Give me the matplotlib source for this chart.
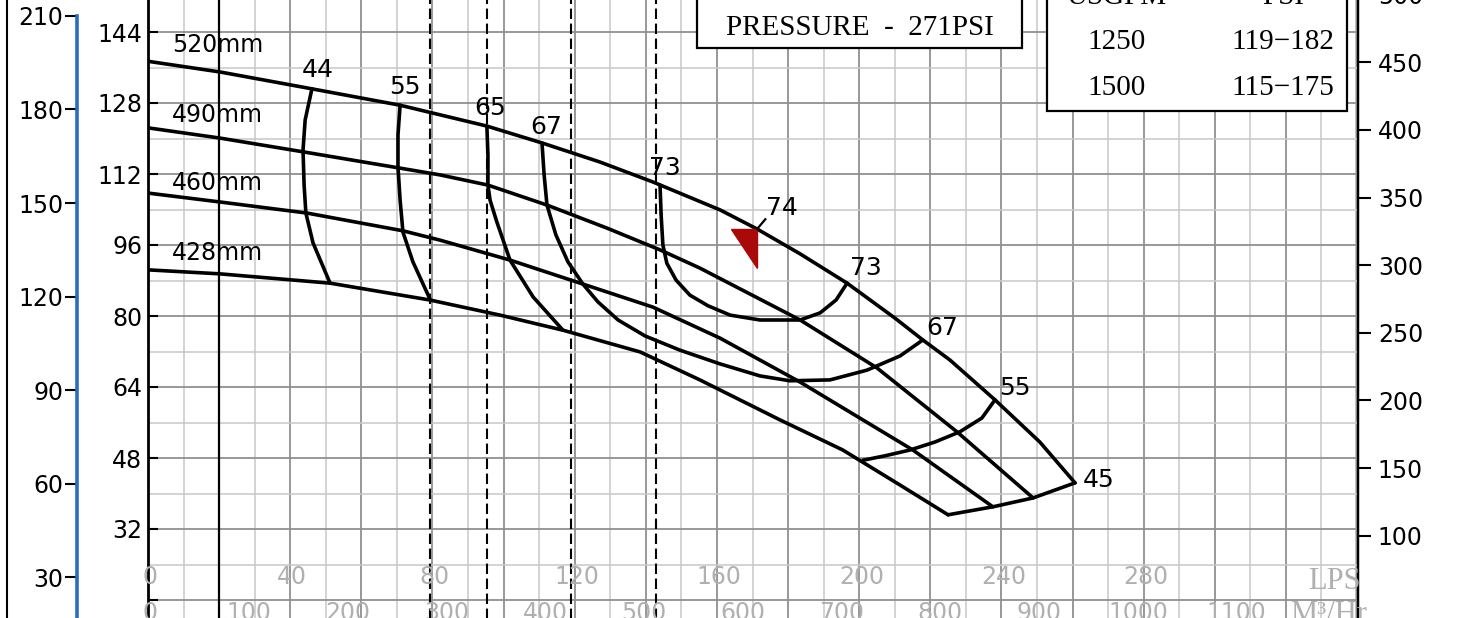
import numpy as np
import matplotlib.pyplot as plt
from matplotlib.lines import Line2D
from matplotlib.patches import Rectangle, Polygon

# flow in LPS, head in metres
lps_520 = [0, 20.2, 44.7, 70.9, 95.3, 110.8, 127.1, 142.0, 160.9, 171.3, 183.4,
           196.6, 210.1, 217.9, 225.5, 238.2, 250.8, 260.7]
head_520 = [137.4, 135.0, 131.4, 127.5, 122.8, 119.0, 114.7, 110.2, 103.9, 99.6, 94.0,
            87.4, 79.5, 74.6, 70.1, 61.1, 51.6, 42.4]
lps_490 = [0, 20.2, 43.6, 70.3, 82.1, 95.6, 112.2, 129.1, 144.0, 155.2, 183.4, 205.0, 227.5, 248.9]
head_490 = [122.4, 120.1, 117.0, 113.4, 111.8, 109.5, 105.0, 99.8, 94.9, 90.8, 79.1, 68.3, 53.9, 39.0]
lps_460 = [0, 20.2, 44.7, 71.7, 82.1, 101.8, 122.3, 142.0, 160.9, 183.4, 215.1, 237.6]
head_460 = [107.7, 105.7, 103.2, 99.2, 97.1, 92.6, 87.2, 82.0, 75.0, 65.1, 49.8, 37.0]
lps_428 = [0, 20.2, 51.2, 79.3, 99.0, 116.7, 138.4, 155.2, 177.7, 195.4, 211.5, 225.0]
head_428 = [90.4, 89.5, 87.4, 83.6, 80.2, 76.8, 71.9, 65.6, 56.6, 49.8, 41.9, 35.2]

# iso-efficiency lines
eff44_lps = [46.1, 44.2, 43.6, 43.9, 44.4, 46.4, 51.2]
eff44_head = [131.2, 124.2, 117.4, 109.5, 103.2, 96.5, 87.4]
eff55_lps = [70.9, 70.3, 70.3, 70.9, 71.7, 74.5, 79.3]
eff55_head = [127.5, 120.8, 113.6, 106.1, 98.9, 92.2, 83.8]
eff65_lps = [95.3, 95.6, 95.6, 96.2, 98.1, 101.8, 108.3, 116.7]
eff65_head = [122.8, 116.3, 109.5, 106.1, 101.2, 92.6, 84.3, 76.8]
eff67_lps = [110.8, 111.4, 112.2, 114.7, 118.1, 122.3, 126.5, 132.2, 139.8, 149.6, 160.9,
             172.1, 180.5, 191.8, 202.2, 211.5, 217.9]
eff67_head = [119.0, 111.8, 105.0, 98.3, 92.2, 87.2, 83.2, 79.1, 75.5, 72.3, 69.2,
              66.5, 65.4, 65.6, 67.8, 71.0, 74.6]
eff73_lps = [144.0, 144.3, 144.8, 145.9, 148.5, 152.4, 157.5, 163.7, 172.1, 183.4,
             189.0, 193.5, 196.6]
eff73_head = [109.5, 102.8, 96.0, 91.9, 88.1, 84.7, 82.3, 80.2, 79.1, 79.1,
              80.7, 83.6, 87.4]
eff55r_lps = [238.2, 234.5, 228.3, 221.3, 214.3, 207.3, 201.1]
eff55r_head = [61.1, 57.0, 53.9, 51.6, 49.8, 48.5, 47.5]
end_lps = [225.0, 237.6, 248.9, 260.7]
end_head = [35.2, 37.0, 39.0, 42.4]

dia_text = ["520mm", "490mm", "460mm", "428mm"]
dia_head = [141.1, 125.3, 110.0, 94.2]

eff_text = ["44", "55", "65", "67", "73", "74", "73", "67", "55", "45"]
eff_lps = [47.8, 72.3, 96.2, 112.0, 145.4, 178.3, 202.0, 223.3, 243.8, 267.2]
eff_head = [135.4, 131.6, 126.9, 122.6, 113.4, 104.3, 90.8, 77.3, 63.8, 43.0]

# best efficiency marker
bep_lps = [164.0, 171.3, 171.3]
bep_head = [99.6, 99.6, 90.8]

limit_lps = 20
dashed_lps = [79.3, 95.2, 118.9, 142.9]

lps_ticks = [0, 40, 80, 120, 160, 200, 240, 280]
m3h_ticks = [0, 100, 200, 300, 400, 500, 600, 700, 800, 900, 1000, 1100]
m_ticks = [16, 32, 48, 64, 80, 96, 112, 128, 144]
psi_ticks = [30, 60, 90, 120, 150, 180, 210]
ft_ticks = [100, 150, 200, 250, 300, 350, 400, 450, 500]

table_gpm = ["1250", "1500"]
table_psi = ["119\u2212182", "115\u2212175"]

M_PER_PSI = 0.70307
M_PER_FT = 0.3048

# layout (pixels of the 1470x618 picture)
W, H = 1470, 618
x0_px, x1_px = 148, 1357
xmin, xmax = 0, 340
ymin, ymax = 8, 156
px_per_m = 4.4375
top_px = 32 - (ymax - 144) * px_per_m
bot_px = 32 + (144 - ymin) * px_per_m

fig = plt.figure(figsize=(W / 100, H / 100), dpi=100)
ax = fig.add_axes([x0_px / W, 1 - bot_px / H, (x1_px - x0_px) / W, (bot_px - top_px) / H])
ax.set_xlim(xmin, xmax)
ax.set_ylim(ymin, ymax)

# graph paper
ax.set_xticks(np.arange(0, 341, 20))
ax.set_xticks(np.arange(10, 341, 20), minor=True)
ax.set_yticks(m_ticks, ["" if v == 16 else str(v) for v in m_ticks])
ax.set_yticks(np.arange(8, 160, 16), minor=True)
ax.grid(which="major", color="#909090", lw=1.3)
ax.grid(which="minor", color="#c8c8c8", lw=1.1)
ax.set_axisbelow(True)
ax.tick_params(axis="x", which="both", length=0, labelbottom=False)
ax.tick_params(axis="y", which="major", direction="in", length=7, width=1.5,
               labelsize=17, pad=4)
ax.tick_params(axis="y", which="minor", length=0)
for s in ["top", "bottom", "right"]:
    ax.spines[s].set_visible(False)
ax.spines["left"].set_linewidth(2)

# secondary scales
psi_ax = ax.secondary_yaxis((77 - x0_px) / (x1_px - x0_px),
                            functions=(lambda m: m / M_PER_PSI, lambda p: p * M_PER_PSI))
psi_ax.set_yticks(psi_ticks)
psi_ax.tick_params(direction="out", length=9, width=1.5, labelsize=17, pad=1)
psi_ax.spines["left"].set_color("#2c6cb8")
psi_ax.spines["left"].set_linewidth(2.6)
psi_ax.spines["left"].set_bounds(5, 210)

ft_ax = ax.secondary_yaxis("right", functions=(lambda m: m / M_PER_FT, lambda f: f * M_PER_FT))
ft_ax.set_yticks(ft_ticks)
ft_ax.tick_params(direction="out", length=10, width=1.5, labelsize=17, pad=5)
ft_ax.spines["right"].set_linewidth(2.5)

# limit lines
ax.axvline(limit_lps, color="black", lw=1.6, zorder=2)
for v in dashed_lps:
    ax.axvline(v, color="black", lw=1.5, ls=(0, (5, 2.2)), zorder=2)

# impeller curves
curve_kw = dict(color="black", lw=2.6, solid_capstyle="round", solid_joinstyle="round", zorder=4)
for xs, ys in [(lps_520, head_520), (lps_490, head_490), (lps_460, head_460), (lps_428, head_428),
               (eff44_lps, eff44_head), (eff55_lps, eff55_head), (eff65_lps, eff65_head),
               (eff67_lps, eff67_head), (eff73_lps, eff73_head), (eff55r_lps, eff55r_head),
               (end_lps, end_head)]:
    ax.plot(xs, ys, **curve_kw)

for t, h in zip(dia_text, dia_head):
    ax.text(6.75, h, t, fontsize=17, ha="left", va="center", zorder=5)
for t, x, y in zip(eff_text, eff_lps, eff_head):
    ax.text(x, y, t, fontsize=18, ha="center", va="center", zorder=5)

ax.add_patch(Polygon(list(zip(bep_lps, bep_head)), closed=True, color="#a80a0a", zorder=5))
ax.plot([171.3, 173.6], [99.6, 101.8], color="black", lw=1.6, zorder=5)

# flow scales drawn inside the grid
for v in lps_ticks:
    ax.text(v + 0.6, 21.2, str(v), fontsize=17, color="#b0b0b0", ha="center", va="center", zorder=3)
ax.text(333.5, 20.2, "LPS", fontsize=22, color="#b0b0b0", family="Liberation Serif",
        ha="center", va="center", zorder=3)
for v in m3h_ticks:
    ax.text(v / 3.6 + 0.6, 13.1, str(v), fontsize=17, color="#b0b0b0", ha="center", va="center", zorder=3)
ax.text(332, 12.8, "M\u00b3/Hr", fontsize=22, color="#b0b0b0", family="Liberation Serif",
        ha="center", va="center", zorder=3)

# boxes
ax.add_patch(Rectangle((154.4, 140.4), 91.4, 25, facecolor="white", edgecolor="black", lw=1.6, zorder=6))
ax.text(200.2, 144.9, "PRESSURE  -  271PSI", fontsize=21, family="Liberation Serif",
        ha="center", va="center", zorder=7)
ax.add_patch(Rectangle((252.8, 126.2), 84.4, 40, facecolor="white", edgecolor="black", lw=1.6, zorder=6))
ax.text(272.5, 151.9, "USGPM", fontsize=21, family="Liberation Serif", ha="center", va="center", zorder=7)
ax.text(319.2, 151.9, "PSI", fontsize=21, family="Liberation Serif", ha="center", va="center", zorder=7)
for i, (g, p) in enumerate(zip(table_gpm, table_psi)):
    y = 141.7 - i * 10.3
    ax.text(272.5, y, g, fontsize=21, family="Liberation Serif", ha="center", va="center", zorder=7)
    ax.text(319.2, y, p, fontsize=21, family="Liberation Serif", ha="center", va="center", zorder=7)

# outer frame edge
fig.add_artist(Line2D([7 / W, 7 / W], [0, 1], color="black", lw=1.5))

fig.savefig("out.png", dpi=100, facecolor="white")
